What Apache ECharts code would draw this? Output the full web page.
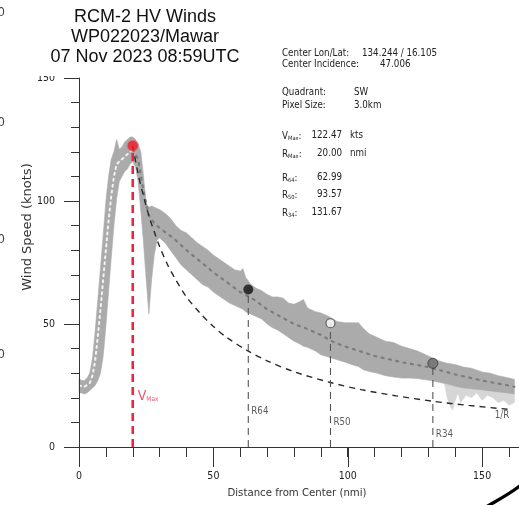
<!DOCTYPE html>
<html><head><meta charset="utf-8">
<script src="https://cdn.jsdelivr.net/npm/echarts@6/dist/echarts.min.js"></script>
<style>html,body{margin:0;padding:0;background:#fff;}#c{width:519px;height:505px;}</style>
</head><body><div id="c"></div>
<script>
// ---------- data ----------
const titleLines = ['RCM-2 HV Winds', 'WP022023/Mawar', '07 Nov 2023 08:59UTC'];
const xAxisName = 'Distance from Center (nmi)';
const yAxisName = 'Wind Speed (knots)';
const xMajorTicks = [0, 50, 100, 150];
const yMajorTicks = [0, 50, 100, 150];

const bandR = [0,1,2,3,4,5,6,7,8,9,10,11,12,13,14,15,16,17,18,19,20,21,22,23,24,25,26,27,28,29,30,
  32,34,36,38,40,42,44,46,48,50,52,54,56,58,60,
  61,62,64,66,68,70,72,74,76,78,80,82,83.5,85,88,90,93,96,99,102,104,106,108,111,114,117,120,123,126,129,131,134,137,140,143,146,150,153,156,160,162];
const bandUpper = [28,27,27,28,30,36,47,60,73,86,100,110,117,120,125,121,122,124,125,126,126,125,123,120,110,99,97.5,98,97.5,97,96.5,
  95,93,90,88,87,85,83,81.5,80,78,76.5,75,73.5,72,71.5,
  72.5,69,66,64.5,63.5,62,61,61,60.5,58.5,58,59,60,56.5,55,54.5,53,51,50.5,50.5,50.5,48,46,44.5,43,42.5,41,40,39,37.5,36.5,35,34,33.5,32.5,32,30.5,30,29,28,27.5];
const bandLower = [22,22,21.5,22,23,24,25,27,30,37,49,63,77,90,101,108,110,112,113,115,116,114,108,96,83,68,54,68,78,84,85,
  83,80,77,74,72,70,68,66,65,63,61.5,60,58.5,57.5,56.5,
  56,55,54,53,52,50,48.5,47.5,46,44.5,43,42,41,40.5,39,37.5,36.5,35.5,34.5,33.3,32.7,31.3,30.7,30,29,28.5,28,28,27.8,27.3,27,26.3,25.6,24.7,24,23.7,23.2,22.8,22.4,21.9,21.5];

const noiseR = [136,137,138,139,140,141,142,144,146,148,150,152,154,156,158,160,162];
const noiseTop = [25.8,25.5,25.2,24.9,24.7,24.5,24.2,23.9,23.7,23.5,23.2,23,22.7,22.4,22.1,21.9,21.5];
const noiseLower = [25.8,20,17,15,19,22,18,21,20,22,19,21,20,18,19,17,18];

const medianRiseR = [0,2,4,5,6,7,8,9,10,11,12,13,14,16,18,20];
const medianRise  = [25,24.5,26,29,35,45,56,68,80,92,102,110,115,117,119,121];
const medianFallR = [20,22,24,26,28,30,35,40,45,50,55,60,65,70,75,80,85,90,95,100,110,120,130,140,150,160,162];
const medianFall  = [121,117,104,94,91,89,85,80,75.5,71,67,63,60,56,53,50,48,45.5,42.5,40.5,37,34.5,32.5,29.5,27,25,24.5];

const decayR = [20,22,24,26,28,30,33,36,40,45,50,55,63,70,80,93.6,105,118,131.7,145,160];
const decayV = [122.5,111,102,94,87.5,81.5,74,68,61,54.5,49,44.5,39,35,30.6,26.2,23.3,20.8,18.6,16.9,15.3];

const vmaxR = 20.00, vmaxV = 122.47;
const radiiNames  = ['R64', 'R50', 'R34'];
const radiiValues = [62.99, 93.57, 131.67];
const radiiSpeeds = [64, 50.3, 34];
const radiiLabelV = [14.6, 9.8, 4.9];
const vmaxLabelV = 21.1;
const decayLabel = '1/R';
const decayLabelPos = [157.4, 13];

const infoLabels = ['Center Lon/Lat:', 'Center Incidence:', 'Quadrant:', 'Pixel Size:', 'V|Max', 'R|Max', 'R|64', 'R|50', 'R|34'];
const infoValues = ['134.244 / 16.105', '47.006', 'SW', '3.0km', '122.47', '20.00', '62.99', '93.57', '131.67'];
const infoUnits  = ['', '', '', '', 'kts', 'nmi', '', '', ''];

// ---------- fonts ----------
function hasFont(f) {
  const c = document.createElement('canvas').getContext('2d');
  const s = 'abcdefghijklmnopqrstuvwxyzABCDEFGH0123456789';
  c.font = '40px monospace'; const w1 = c.measureText(s).width;
  c.font = "40px '" + f + "', monospace"; const w2 = c.measureText(s).width;
  return w1 !== w2;
}
let NF = "'Liberation Sans'", NS = 0.83;
if (hasFont('Liberation Sans Narrow')) { NF = "'Liberation Sans Narrow'"; NS = 1; }
else if (hasFont('DejaVu Sans Condensed')) { NF = "'DejaVu Sans Condensed'"; NS = 0.81; }
const fs = v => Math.round(v * NS * 10) / 10;

// ---------- build ----------
const zip = (a, b) => a.map((x, i) => [x, b[i]]);

const gridL = 79, gridT = 78, gridB = 58;
const pxPerUnit = 2.6875;
const xMaxMain = (519 - gridL) / pxPerUnit;
const grid1Right = 519 - gridL - 150 * pxPerUnit;
const axisColor = '#333';

function bandSeries(rs, top, bottom, fill, z) {
  return { type: 'custom', coordinateSystem: 'cartesian2d', data: [[rs[0], bottom[0]]], silent: true, z: z,
    renderItem: (params, api) => {
      const pts = rs.map((r, i) => api.coord([r, top[i]]));
      for (let i = rs.length - 1; i >= 0; i--) pts.push(api.coord([rs[i], bottom[i]]));
      return { type: 'polygon', shape: { points: pts }, style: { fill: fill, stroke: fill, lineWidth: 0.6 } };
    } };
}

const series = [];
series.push(bandSeries(noiseR, noiseTop, noiseLower, '#d6d6d6', 1));
series.push(bandSeries(bandR, bandUpper, bandLower, '#ababab', 2));
series.push({ type: 'line', data: zip(medianRiseR, medianRise), symbol: 'none', lineStyle: { color: '#f2f2f2', width: 2, type: [2, 4], cap: 'round' }, z: 3 });
series.push({ type: 'line', data: zip(medianFallR, medianFall), symbol: 'none', lineStyle: { color: '#7c7c7c', width: 2.2, type: [2, 5.5], cap: 'round' }, z: 3 });
series.push({ type: 'line', data: zip(decayR, decayV), smooth: 0.3, symbol: 'none', lineStyle: { color: '#2a2a2a', width: 1.4, type: [6, 5] }, z: 4 });
series.push({ type: 'line', data: [[vmaxR, 0], [vmaxR, vmaxV]], symbol: 'none', lineStyle: { color: '#e4283f', width: 2.6, type: [8, 5] }, z: 5 });
radiiValues.forEach((r, i) => {
  series.push({ type: 'line', data: [[r, 0], [r, radiiSpeeds[i]]], symbol: 'none', lineStyle: { color: '#555', width: 1.1, type: [7, 5] }, z: 5 });
});
series.push({ type: 'scatter', symbolSize: 11, data: [[vmaxR, vmaxV]], itemStyle: { color: '#ee1c25', borderColor: '#f07080', borderWidth: 1 }, z: 7 });
series.push({ type: 'scatter', symbolSize: 10, data: [[radiiValues[0], radiiSpeeds[0]]], itemStyle: { color: '#111' }, z: 7 });
series.push({ type: 'scatter', symbolSize: 9, data: [[radiiValues[1], radiiSpeeds[1]]], itemStyle: { color: '#fff', borderColor: '#444', borderWidth: 1.2 }, z: 7 });
series.push({ type: 'scatter', symbolSize: 10, data: [[radiiValues[2], radiiSpeeds[2]]], itemStyle: { color: '#6e6e6e', borderColor: '#3a3a3a', borderWidth: 1 }, z: 7 });
series.push({
  type: 'scatter', symbolSize: 0, z: 8, silent: true,
  data: [[vmaxR, vmaxLabelV]],
  label: { show: true, position: 'right', distance: 5, formatter: '{v|V}{s|Max}',
    rich: { v: { fontSize: 14, color: '#e4283f', fontFamily: NF, verticalAlign: 'bottom', lineHeight: 16 },
            s: { fontSize: fs(8), color: '#e4283f', fontFamily: NF, verticalAlign: 'bottom', lineHeight: 8 } } }
});
radiiValues.forEach((r, i) => {
  series.push({ type: 'scatter', symbolSize: 0, z: 8, silent: true, data: [[r, radiiLabelV[i]]],
    label: { show: true, position: 'right', distance: 3, formatter: radiiNames[i], color: '#333', fontSize: fs(12), fontFamily: NF } });
});
series.push({ type: 'scatter', symbolSize: 0, z: 8, silent: true, data: [decayLabelPos],
  label: { show: true, position: 'inside', formatter: decayLabel, color: '#333', fontSize: fs(12), fontFamily: NF } });

// graphic
const graphic = [];
graphic.push({ type: 'rect', shape: { x: 15, y: 0, width: 252, height: 76 }, style: { fill: '#fff' }, z: 100, silent: true });
const titleY = [17.5, 37.5, 57];
titleLines.forEach((t, i) => graphic.push({ type: 'text', x: 145, y: titleY[i], z: 101, silent: true,
  style: { text: t, fill: '#111', font: "18px 'Liberation Sans', Arial, sans-serif", align: 'center', verticalAlign: 'middle' } }));
[13, 123, 240, 355].forEach(y => graphic.push({ type: 'text', x: 5, y: y, z: 101, silent: true,
  style: { text: '0', fill: '#444', font: '13px ' + NF, align: 'right', verticalAlign: 'middle' } }));
const infoY = [53, 64, 92, 105, 135, 153, 177, 194, 212];
const infoFont = fs(12) + 'px ' + NF;
const subRich = {
  m: { fontSize: fs(12), fontFamily: NF, fill: '#222', verticalAlign: 'bottom', lineHeight: 13 },
  s: { fontSize: fs(7), fontFamily: NF, fill: '#222', verticalAlign: 'bottom', lineHeight: 7 }
};
infoLabels.forEach((lab, i) => {
  let text, rich;
  if (lab.indexOf('|') >= 0) { const p = lab.split('|'); text = '{m|' + p[0] + '}{s|' + p[1] + '}{m|:}'; rich = subRich; }
  else text = lab;
  graphic.push({ type: 'text', x: 282, y: infoY[i], z: 101, silent: true,
    style: rich ? { text: text, rich: rich, verticalAlign: 'middle', align: 'left' } :
                 { text: text, fill: '#222', font: infoFont, align: 'left', verticalAlign: 'middle' } });
  const rightAligned = i >= 4;
  graphic.push({ type: 'text', x: rightAligned ? 342 : (i < 2 ? [362, 380][i] : 354), y: infoY[i], z: 101, silent: true,
    style: { text: infoValues[i], fill: '#222', font: infoFont, align: rightAligned ? 'right' : 'left', verticalAlign: 'middle' } });
  if (infoUnits[i]) graphic.push({ type: 'text', x: 350, y: infoY[i], z: 101, silent: true,
    style: { text: infoUnits[i], fill: '#222', font: infoFont, align: 'left', verticalAlign: 'middle' } });
});
graphic.push({ type: 'text', x: 28, y: 227, rotation: Math.PI / 2, z: 101, silent: true,
  style: { text: yAxisName, fill: '#333', font: "13px 'DejaVu Sans', sans-serif", align: 'center', verticalAlign: 'middle' } });
graphic.push({ type: 'text', x: 297, y: 493, z: 101, silent: true,
  style: { text: xAxisName, fill: '#333', font: fs(14) + 'px ' + NF, align: 'center', verticalAlign: 'middle' } });
graphic.push({ type: 'bezierCurve', z: 101, silent: true,
  shape: { x1: 486, y1: 507, x2: 521, y2: 485, cpx1: 498, cpy1: 500, cpx2: 510, cpy2: 494 },
  style: { stroke: '#000', lineWidth: 3.2, fill: null } });

const option = {
  animation: false,
  backgroundColor: '#fff',
  grid: [
    { left: gridL, right: 0, top: gridT, bottom: gridB, outerBoundsMode: 'none' },
    { left: gridL, right: grid1Right, top: gridT, bottom: gridB, outerBoundsMode: 'none' }
  ],
  xAxis: [
    { type: 'value', gridIndex: 0, min: 0, max: xMaxMain, interval: 10, z: 10,
      axisLine: { show: true, onZero: false, lineStyle: { color: axisColor, width: 1 } },
      axisTick: { show: true, length: 10, lineStyle: { color: axisColor, width: 1 } },
      axisLabel: { show: false }, splitLine: { show: false } },
    { type: 'value', gridIndex: 1, min: 0, max: 150, interval: 50, z: 10,
      axisLine: { show: false, onZero: false },
      axisTick: { show: true, length: 20, lineStyle: { color: axisColor, width: 1 } },
      axisLabel: { show: true, margin: 24, color: '#222', fontSize: fs(13), fontFamily: NF,
        formatter: v => xMajorTicks.indexOf(v) >= 0 ? String(v) : '' },
      splitLine: { show: false } }
  ],
  yAxis: [
    { type: 'value', gridIndex: 0, min: 0, max: 150, interval: 50, z: 10,
      axisLine: { show: true, onZero: false, lineStyle: { color: axisColor, width: 1 } },
      axisTick: { show: true, length: 15, lineStyle: { color: axisColor, width: 1 } },
      minorTick: { show: true, splitNumber: 5, length: 8, lineStyle: { color: axisColor, width: 1 } },
      axisLabel: { show: true, margin: 24, color: '#222', fontSize: fs(13), fontFamily: NF,
        formatter: v => yMajorTicks.indexOf(v) >= 0 ? String(v) : '' },
      splitLine: { show: false } },
    { type: 'value', gridIndex: 1, min: 0, max: 150, show: false }
  ],
  series: series.map(s => Object.assign({ xAxisIndex: 0, yAxisIndex: 0 }, s)),
  graphic: graphic
};
const chart = echarts.init(document.getElementById('c'), null, { renderer: 'canvas' });
chart.setOption(option);
</script>
</body></html>
